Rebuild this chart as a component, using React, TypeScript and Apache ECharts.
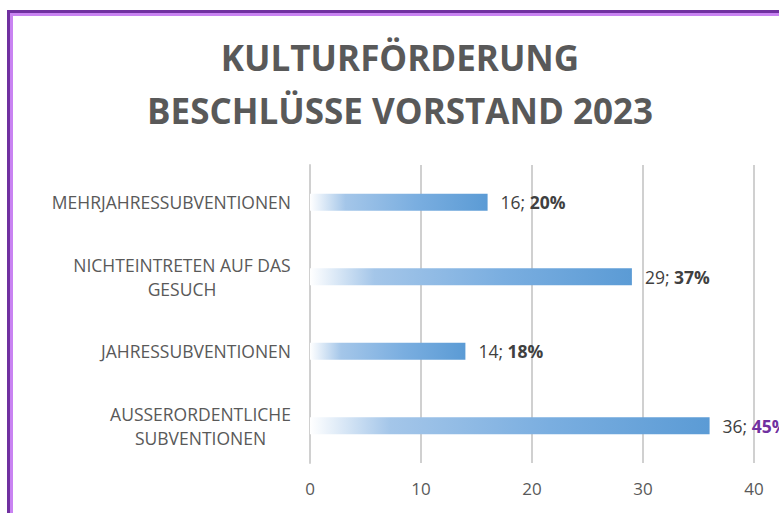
import React, { useEffect, useRef } from "react";
import * as echarts from "echarts";

const categories = [
  "AUSSERORDENTLICHE\nSUBVENTIONEN",
  "JAHRESSUBVENTIONEN",
  "NICHTEINTRETEN AUF DAS\nGESUCH",
  "MEHRJAHRESSUBVENTIONEN",
];
const counts = [36, 14, 29, 16];
const percents = ["45%", "18%", "37%", "20%"];
const highlight = [true, false, false, false];
const xTicks = { min: 0, max: 40, interval: 10 };

const CAT_SIZE = 17.5;
const CAT_FONT = `${CAT_SIZE}px 'Open Sans'`;

function measure(text: string, font: string): number {
  const c = document.createElement("canvas").getContext("2d");
  if (!c) return text.length * 10;
  c.font = font;
  return c.measureText(text).width;
}

export default function App() {
  const ref = useRef<HTMLDivElement>(null);
  useEffect(() => {
    if (!ref.current) return;
    const chart = echarts.init(ref.current, undefined, { renderer: "svg" });
    const rich: Record<string, any> = {};
    const labelMap: Record<string, string> = {};
    categories.forEach((c, i) => {
      if (c.includes("\n")) {
        const lines = c.split("\n");
        const w = Math.ceil(Math.max(...lines.map((l) => measure(l, CAT_FONT))));
        const key = "c" + i;
        rich[key] = {
          width: w,
          align: "center",
          fontFamily: "Open Sans",
          fontSize: CAT_SIZE,
          color: "#595959",
          lineHeight: 24,
        };
        labelMap[c] = lines.map((l) => `{${key}|${l}}`).join("\n");
      } else {
        labelMap[c] = c;
      }
    });
    const option: any = {
      animation: false,
      backgroundColor: "#ffffff",
      title: {
        text: "KULTURFÖRDERUNG\nBESCHLÜSSE VORSTAND 2023",
        left: 395,
        top: 26,
        textAlign: "center",
        textStyle: {
          fontFamily: "Open Sans",
          fontWeight: "bold",
          fontSize: 35,
          lineHeight: 53,
          color: "#595959",
        },
      },
      graphic: [
        {
          type: "rect",
          shape: { x: 8.5, y: 11.5, width: 2000, height: 2000 },
          style: { fill: "none", stroke: "#7030a0", lineWidth: 3 },
          silent: true,
        },
        {
          type: "rect",
          shape: { x: 11.5, y: 14.5, width: 2000, height: 2000 },
          style: { fill: "none", stroke: "#c983f2", lineWidth: 3 },
          silent: true,
        },
      ],
      grid: { left: 310, right: 25, top: 165, height: 298 },
      xAxis: {
        type: "value",
        min: xTicks.min,
        max: xTicks.max,
        interval: xTicks.interval,
        axisLine: { show: false },
        axisTick: { show: false },
        axisLabel: {
          margin: 17,
          fontFamily: "Open Sans",
          fontSize: 17,
          color: "#595959",
        },
        splitLine: { lineStyle: { color: "#d0d0d0", width: 2 } },
      },
      yAxis: {
        type: "category",
        data: categories,
        axisLine: { show: true, lineStyle: { color: "#d0d0d0", width: 2 } },
        axisTick: { show: false },
        axisLabel: {
          margin: 19,
          fontFamily: "Open Sans",
          fontSize: CAT_SIZE,
          color: "#595959",
          lineHeight: 24,
          formatter: (v: string) => labelMap[v] ?? v,
          rich,
        },
      },
      series: [
        {
          type: "bar",
          barWidth: 17,
          data: counts.map((v, i) => ({
            value: v,
            label: {
              formatter: `{n|${v}; }{${highlight[i] ? "h" : "b"}|${percents[i]}}`,
            },
          })),
          itemStyle: {
            color: new echarts.graphic.LinearGradient(0, 0, 1, 0, [
              { offset: 0, color: "#ffffff" },
              { offset: 0.2, color: "#a4c6e9" },
              { offset: 0.6, color: "#7aaee0" },
              { offset: 1, color: "#5b9bd5" },
            ]),
          },
          label: {
            show: true,
            position: "right",
            distance: 13,
            rich: {
              n: { fontFamily: "Open Sans", fontSize: 17.5, color: "#404040" },
              b: { fontFamily: "Open Sans", fontSize: 17.5, fontWeight: "bold", color: "#404040" },
              h: { fontFamily: "Open Sans", fontSize: 17.5, fontWeight: "bold", color: "#7030a0" },
            },
          },
        },
      ],
    };
    chart.setOption(option);
    return () => chart.dispose();
  }, []);
  return (
    <div
      ref={ref}
      style={{ position: "fixed", left: 0, top: 0, width: 779, height: 513 }}
    />
  );
}
